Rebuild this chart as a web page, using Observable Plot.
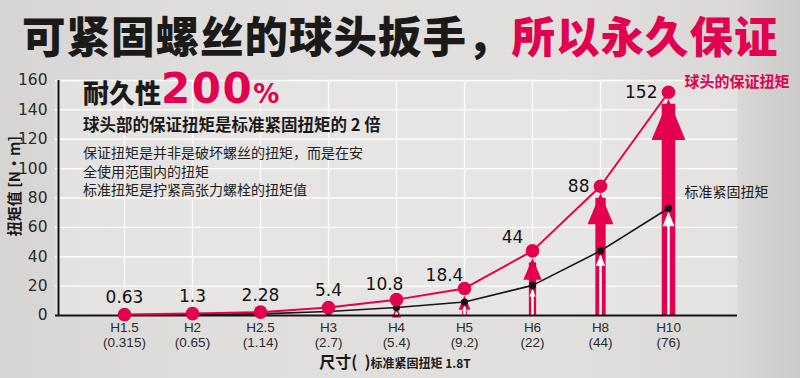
<!DOCTYPE html>
<html>
<head>
<meta charset="utf-8">
<script src="https://cdn.jsdelivr.net/npm/d3@7"></script>
<script src="https://cdn.jsdelivr.net/npm/@observablehq/plot@0.6"></script>
<style>
  html, body { margin: 0; padding: 0; }
  body { width: 800px; height: 378px; overflow: hidden;
    background: linear-gradient(90deg, #d6d5d3 0%, #dfdedc 25%, #e1e0de 70%, #d9d8d6 92%, #cbcac8 100%);
    font-family: "Noto Sans CJK SC", sans-serif; }
  #wrap { position: relative; width: 800px; height: 378px; }
  #chart { position: absolute; left: 0; top: 0; }
  .abs { position: absolute; white-space: nowrap; }
  #title { left: 22px; top: 3px; font-size: 43.5px; font-weight: 900; line-height: 1.45; color: #1c1a19; letter-spacing: 1px; }
  #title .red { color: #e2004f; }
  #head { left: 83px; top: 66px; line-height: 1.1; }
  #head .a { font-size: 26px; font-weight: 900; color: #1c1a19; }
  #head .b { font-family: "DejaVu Sans", sans-serif; font-size: 42px; font-weight: 700; color: #e2004f; letter-spacing: 1.5px; }
  #head .c { font-family: "DejaVu Sans", sans-serif; font-size: 26px; font-weight: 700; color: #e2004f; }
  #sub { left: 83px; top: 115px; font-size: 16.5px; font-weight: 700; color: #1c1a19; line-height: 1.2; }
  #note { left: 83px; top: 143px; font-size: 14px; font-weight: 400; color: #222; line-height: 18.5px; }
  #ylab { left: 13px; top: 186px; font-size: 15px; font-weight: 700; color: #1c1a19; transform: translate(-50%, -50%) rotate(-90deg); }
  #xlab { left: 395px; top: 352px; transform: translateX(-50%); color: #1c1a19; font-weight: 700; line-height: 1.2; }
  #xlab .big { font-size: 16px; }
  #xlab .small { font-size: 12px; }
</style>
</head>
<body>
<div id="wrap">
  <div id="chart"></div>
  <div id="title" class="abs">可紧固螺丝的球头扳手，<span class="red">所以永久保证</span></div>
  <div id="head" class="abs"><span class="a">耐久性</span><span class="b">200</span><span class="c">%</span></div>
  <div id="sub" class="abs">球头部的保证扭矩是标准紧固扭矩的 2 倍</div>
  <div id="note" class="abs">保证扭矩是并非是破坏螺丝的扭矩，而是在安<br>全使用范围内的扭矩<br>标准扭矩是拧紧高张力螺栓的扭矩值</div>
  <div id="ylab" class="abs">扭矩值 [N·m]</div>
  <div id="xlab" class="abs"><span class="big">尺寸(&nbsp;&nbsp;)</span><span class="small">标准紧固扭矩 1.8T</span></div>
</div>
<script>
// ---- data ----
const sizes = ["H1.5", "H2", "H2.5", "H3", "H4", "H5", "H6", "H8", "H10"];
const standardTorqueLabels = ["0.315", "0.65", "1.14", "2.7", "5.4", "9.2", "22", "44", "76"];
const guaranteedTorque = [0.63, 1.3, 2.28, 5.4, 10.8, 18.4, 44, 88, 152];
const guaranteedLabels = ["0.63", "1.3", "2.28", "5.4", "10.8", "18.4", "44", "88", "152"];
const standardTorque = [0.315, 0.65, 1.14, 2.7, 5.4, 9.2, 20.5, 44, 73];
const yTicks = [0, 20, 40, 60, 80, 100, 120, 140, 160];
const seriesNames = ["球头的保证扭矩", "标准紧固扭矩"];
const arrowSizes = ["H4", "H5", "H6", "H8", "H10"];

// ---- build table ----
const data = sizes.map((s, i) => ({
  size: s, red: guaranteedTorque[i], black: standardTorque[i],
  label: guaranteedLabels[i], idx: i
}));
const arrows = data.filter(d => arrowSizes.includes(d.size));
const last = [data[data.length - 1]];

const RED = "#e2004f";
const INK = "#161414";

// arrowhead symbols: tip at the origin, pointing up
const redHead = { draw(ctx, size) {
  const r = Math.sqrt(size / Math.PI);
  const w = 2.75 * r, h = 3.3 * r;
  ctx.moveTo(0, 0); ctx.lineTo(w / 2, h); ctx.lineTo(-w / 2, h); ctx.closePath();
}};
const whiteHead = { draw(ctx, size) {
  const r = Math.sqrt(size / Math.PI);
  const w = 1.4 * r, h = 1.7 * r;
  ctx.moveTo(0, 0); ctx.lineTo(w / 2, h); ctx.lineTo(-w / 2, h); ctx.closePath();
}};

const lblFont = { fontFamily: "DejaVu Sans", fontSize: 17, fill: "#111" };

const chart = Plot.plot({
  width: 800, height: 378,
  marginTop: 80, marginRight: 63, marginBottom: 63, marginLeft: 55,
  style: { background: "transparent", overflow: "visible" },
  x: { type: "point", domain: sizes, padding: 1 },
  y: { domain: [0, 160] },
  r: { type: "sqrt", domain: [0, 152], range: [0, Math.sqrt(152)] },
  marks: [
    Plot.frame({ fill: "#ebeae8", fillOpacity: 0.6, stroke: null }),
    Plot.gridY(yTicks.slice(1), { stroke: "white", strokeOpacity: 0.95, strokeWidth: 1.3 }),
    Plot.gridX(sizes, { stroke: "white", strokeOpacity: 0.9, strokeWidth: 1.3 }),
    Plot.axisY(yTicks, { tickSize: 0, tickPadding: 8, label: null, fontSize: 15.5,
      fontFamily: "DejaVu Sans", fill: "#2b2b2b" }),
    Plot.axisX(sizes, { tickSize: 0, tickPadding: 6, label: null, fontSize: 13.5, lineHeight: 1.1,
      fontFamily: "Liberation Sans", fill: "#2b2b2b",
      tickFormat: d => d + "\n(" + standardTorqueLabels[sizes.indexOf(d)] + ")" }),
    // red arrows
    Plot.ruleX(arrows, { x: "size", y1: "red", y2: 0, stroke: RED,
      strokeWidth: d => 1.1 * Math.sqrt(d.red), insetTop: 12 }),
    Plot.dot(arrows, { x: "size", y: "red", r: "red", symbol: redHead, fill: RED, stroke: "none", dy: 7 }),
    // white inner arrows
    Plot.ruleX(arrows, { x: "size", y1: "black", y2: 0, stroke: "white", strokeWidth: 2.5, insetTop: 6 }),
    Plot.dot(arrows, { x: "size", y: "black", r: "black", symbol: whiteHead, fill: "white", stroke: "none", dy: 3.5 }),
    // axis lines
    Plot.ruleY([0], { stroke: INK, strokeWidth: 2 }),
    Plot.ruleX([0], { x: () => sizes[0], y1: 160, y2: 0, stroke: INK, strokeWidth: 2, dx: -66 }),
    // standard line
    Plot.line(data, { x: "size", y: "black", stroke: INK, strokeWidth: 1.6 }),
    Plot.dot(data, { x: "size", y: "black", r: 3.6, fill: INK, stroke: "none" }),
    // guaranteed line
    Plot.line(data, { x: "size", y: "red", stroke: RED, strokeWidth: 2 }),
    Plot.dot(data, { x: "size", y: "red", r: 6.8, fill: RED, stroke: "none" }),
    // value labels
    Plot.text(data.filter(d => d.idx <= 3), { x: "size", y: "red", text: "label", dy: -17, ...lblFont }),
    Plot.text(data.filter(d => d.idx === 4), { x: "size", y: "red", text: "label", dx: -12, dy: -15, ...lblFont }),
    Plot.text(data.filter(d => d.idx === 5 || d.idx === 6), { x: "size", y: "red", text: "label", dx: -20, dy: -13, ...lblFont }),
    Plot.text(data.filter(d => d.idx >= 7), { x: "size", y: "red", text: "label", dx: -11, textAnchor: "end", ...lblFont }),
    // series labels
    Plot.text(last, { x: "size", y: "red", text: () => seriesNames[0], dx: 16, dy: -10, textAnchor: "start",
      fontFamily: "Noto Sans CJK SC", fontWeight: 700, fontSize: 15, fill: RED }),
    Plot.text(last, { x: "size", y: "black", text: () => seriesNames[1], dx: 16, dy: -16, textAnchor: "start",
      fontFamily: "Noto Sans CJK SC", fontSize: 14, fill: "#1c1a19" })
  ]
});
document.getElementById("chart").appendChild(chart);
</script>
</body>
</html>
